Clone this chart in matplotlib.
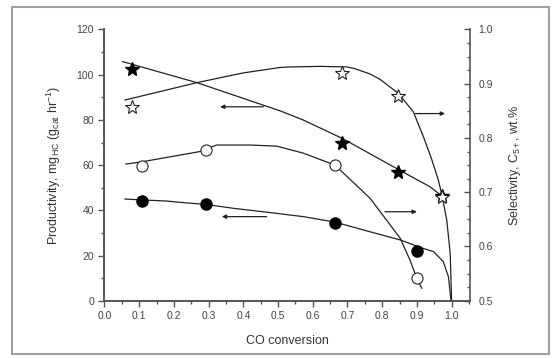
import numpy as np
import matplotlib
matplotlib.use('Agg')
import matplotlib.pyplot as plt
from matplotlib.ticker import MultipleLocator
from matplotlib.patches import Rectangle

plt.rcParams['font.family'] = ['Liberation Sans', 'DejaVu Sans']
plt.rcParams['mathtext.fontset'] = 'custom'
plt.rcParams['mathtext.rm'] = 'Liberation Sans'
plt.rcParams['mathtext.it'] = 'Liberation Sans'

# measured points
x_star = [0.078, 0.684, 0.847, 0.971]
prod_star = [102.5, 69.6, 56.8, 46.5]          # filled stars, left axis
sel_star = [0.858, 0.919, 0.878, 0.691]         # open stars, right axis

x_circ = [0.107, 0.292, 0.664, 0.900]
prod_circ = [43.9, 42.9, 34.2, 22.1]            # filled circles, left axis
sel_circ = [0.749, 0.777, 0.750, 0.541]         # open circles, right axis

# fitted curves
fit_prod_star_x = [0.052, 0.266, 0.506, 0.572, 0.684, 0.852, 0.938, 0.975]
fit_prod_star_y = [105.8, 96.5, 84.0, 80.0, 71.9, 57.6, 50.4, 46.0]

fit_sel_star_x = [0.059, 0.266, 0.40, 0.506, 0.535, 0.62, 0.698, 0.72, 0.765,
                  0.794, 0.847, 0.89, 0.919, 0.943, 0.962, 0.972, 0.986,
                  0.996, 1.0]
fit_sel_star_y = [0.870, 0.902, 0.920, 0.930, 0.931, 0.932, 0.931, 0.928, 0.918,
                  0.908, 0.882, 0.848, 0.802, 0.760, 0.722, 0.695, 0.649,
                  0.587, 0.50]

fit_prod_circ_x = [0.059, 0.107, 0.179, 0.227, 0.292, 0.371, 0.477, 0.573, 0.664,
                   0.765, 0.852, 0.909, 0.948, 0.976, 0.991, 0.998]
fit_prod_circ_y = [45.0, 44.6, 44.1, 43.4, 42.6, 40.9, 39.0, 37.2, 34.8,
                   30.5, 26.9, 23.6, 21.7, 17.3, 10.6, 0.3]

fit_sel_circ_x = [0.062, 0.107, 0.275, 0.323, 0.419, 0.496, 0.573, 0.664, 0.765,
                  0.832, 0.852, 0.88, 0.90, 0.914]
fit_sel_circ_y = [0.752, 0.756, 0.775, 0.787, 0.787, 0.785, 0.772, 0.750, 0.689,
                  0.632, 0.615, 0.575, 0.541, 0.523]

ink = '#222222'

fig = plt.figure(figsize=(5.57, 3.58), dpi=100)
fig.patches.append(Rectangle((12 / 557, 0.01), 0.985 - 12 / 557, 0.97,
                             transform=fig.transFigure, fill=False,
                             edgecolor='#a0a0a0', linewidth=1.5))
ax = fig.add_axes([0.1876, 0.160, 0.6562, 0.7576])
ax2 = ax.twinx()

line_kw = dict(color=ink, lw=0.9, solid_joinstyle='round')
ax.plot(fit_prod_star_x, fit_prod_star_y, **line_kw)
ax.plot(fit_prod_circ_x, fit_prod_circ_y, **line_kw)
ax2.plot(fit_sel_star_x, fit_sel_star_y, **line_kw)
ax2.plot(fit_sel_circ_x, fit_sel_circ_y, **line_kw)

ax.plot(x_star, prod_star, ls='none', marker='*', ms=10, color='black')
ax.plot(x_circ, prod_circ, ls='none', marker='o', ms=8, color='black')
ax2.plot(x_star, sel_star, ls='none', marker='*', ms=10, mfc='white',
         mec=ink, mew=0.8)
ax2.plot(x_circ, sel_circ, ls='none', marker='o', ms=8, mfc='white',
         mec=ink, mew=0.8)

arrow = dict(arrowstyle='-|>', color=ink, lw=0.9, mutation_scale=6,
             shrinkA=0, shrinkB=0)
ax.annotate('', xy=(0.333, 85.8), xytext=(0.458, 85.8), arrowprops=arrow)
ax.annotate('', xy=(0.338, 37.2), xytext=(0.467, 37.2), arrowprops=arrow)
ax2.annotate('', xy=(0.981, 0.845), xytext=(0.895, 0.845), arrowprops=arrow)
ax2.annotate('', xy=(0.900, 0.664), xytext=(0.808, 0.664), arrowprops=arrow)

ax.set_xlim(0, 1.053)
ax.set_ylim(0, 120)
ax2.set_ylim(0.5, 1.0)

ax.xaxis.set_major_locator(MultipleLocator(0.1))
ax.xaxis.set_minor_locator(MultipleLocator(0.05))
ax.yaxis.set_major_locator(MultipleLocator(20))
ax.yaxis.set_minor_locator(MultipleLocator(10))
ax2.yaxis.set_major_locator(MultipleLocator(0.1))
ax2.yaxis.set_minor_locator(MultipleLocator(0.025))
ax.xaxis.set_major_formatter(plt.FuncFormatter(lambda v, p: '%.1f' % v))
ax2.yaxis.set_major_formatter(plt.FuncFormatter(lambda v, p: '%.1f' % v))

for a in (ax, ax2):
    a.spines['top'].set_visible(False)
    for s in a.spines.values():
        s.set_color('#555555')
        s.set_linewidth(1.2)
ax.spines['right'].set_visible(False)

ax.tick_params(which='both', direction='out', colors='#555555', labelcolor='#444444',
               labelsize=7.5, width=1)
ax.tick_params(which='major', length=4)
ax.tick_params(which='minor', length=2.5)
ax2.tick_params(which='both', direction='in', colors='#555555', labelcolor='#444444',
                labelsize=7.5, width=1)
ax2.tick_params(which='major', length=4, pad=6)
ax2.tick_params(which='minor', length=2.5)

ax.set_xlabel('CO conversion', fontsize=9, color='#333333', labelpad=10)
ax.set_ylabel(r'Productivity, mg$_{HC}$ (g$_{cat}$ hr$^{-1}$)', fontsize=9,
              color='#333333', labelpad=10)
ax2.set_ylabel(r'Selectivity, C$_{5+}$, wt.%', fontsize=9, color='#333333',
               labelpad=10)

fig.savefig('out.png', dpi=100)
